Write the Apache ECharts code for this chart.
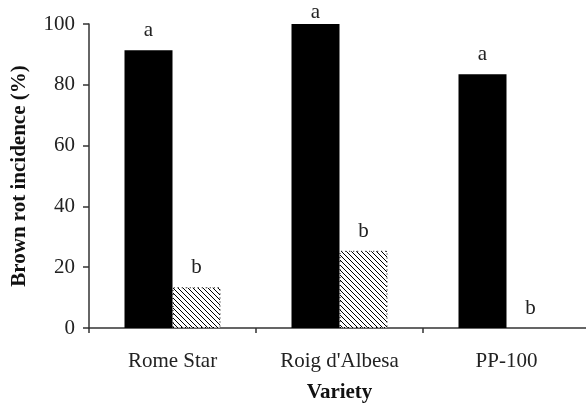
<!DOCTYPE html>
<html><head><meta charset="utf-8">
<script src="https://cdn.jsdelivr.net/npm/echarts@6/dist/echarts.min.js"></script>
<style>html,body{margin:0;padding:0;background:#fff}#c{width:586px;height:404px}</style>
</head><body><div id="c"></div>
<script>
const categories = ["Rome Star", "Roig d'Albesa", "PP-100"];
const controlValues = [91.4, 100, 83.5];
const treatedValues = [13.4, 25.4, 0];
const controlLetters = ["a", "a", "a"];
const treatedLetters = ["b", "b", "b"];
const yTicks = [0, 20, 40, 60, 80, 100];

function hatch() {
  const c = document.createElement('canvas');
  c.width = 5; c.height = 5;
  const g = c.getContext('2d');
  g.fillStyle = '#fff'; g.fillRect(0, 0, 5, 5);
  g.strokeStyle = '#000'; g.lineWidth = 1;
  g.beginPath();
  g.moveTo(0, 0); g.lineTo(5, 5);
  g.moveTo(-2.5, 2.5); g.lineTo(2.5, 7.5);
  g.moveTo(2.5, -2.5); g.lineTo(7.5, 2.5);
  g.stroke();
  return c;
}
const font = '"Liberation Serif", "Times New Roman", serif';
const chart = echarts.init(document.getElementById('c'), null, {renderer: 'canvas'});
const hatchImg = hatch();
chart.setOption({
  animation: false,
  backgroundColor: '#fff',
  textStyle: {fontFamily: font},
  grid: {left: 89, right: -4, top: 24, bottom: 76, outerBoundsMode: 'none', containLabel: false},
  xAxis: {
    type: 'category', data: categories,
    name: 'Variety', nameLocation: 'middle', nameGap: 54,
    nameTextStyle: {fontFamily: font, fontWeight: 'bold', fontSize: 21, color: '#111'},
    axisLine: {lineStyle: {color: '#333', width: 1.5}},
    axisTick: {show: true, length: 5, lineStyle: {color: '#333', width: 1.5}},
    axisLabel: {fontFamily: font, fontSize: 21, color: '#222', margin: 23}
  },
  yAxis: {
    type: 'value', min: 0, max: 100, interval: 20,
    name: 'Brown rot incidence (%)', nameLocation: 'middle', nameGap: 59, nameRotate: 90,
    nameTextStyle: {fontFamily: font, fontWeight: 'bold', fontSize: 21, color: '#111'},
    axisLine: {show: true, lineStyle: {color: '#333', width: 1.5}},
    axisTick: {show: true, length: 6, lineStyle: {color: '#333', width: 1.5}},
    splitLine: {show: false},
    axisLabel: {fontFamily: font, fontSize: 21, color: '#222', margin: 14,
      formatter: v => yTicks.includes(v) ? String(v) : ''}
  },
  series: [
    {type: 'bar', barWidth: 48, barGap: '0%',
     data: controlValues.map(v => v >= 100 ? {value: v, label: {distance: 1}} : v),
     itemStyle: {color: '#000'},
     label: {show: true, position: 'top', distance: 9, fontFamily: font, fontSize: 21, color: '#222',
       formatter: p => controlLetters[p.dataIndex]}},
    {type: 'bar', barWidth: 48,
     data: treatedValues.map(v => v === 0 ? {value: v, itemStyle: {borderWidth: 0}} : v),
     itemStyle: {color: {image: hatchImg, repeat: 'repeat'}, borderColor: '#000', borderWidth: 1, borderType: [1, 3]},
     label: {show: true, position: 'top', distance: 9, fontFamily: font, fontSize: 21, color: '#222',
       formatter: p => treatedLetters[p.dataIndex]}}
  ]
});
</script></body></html>
